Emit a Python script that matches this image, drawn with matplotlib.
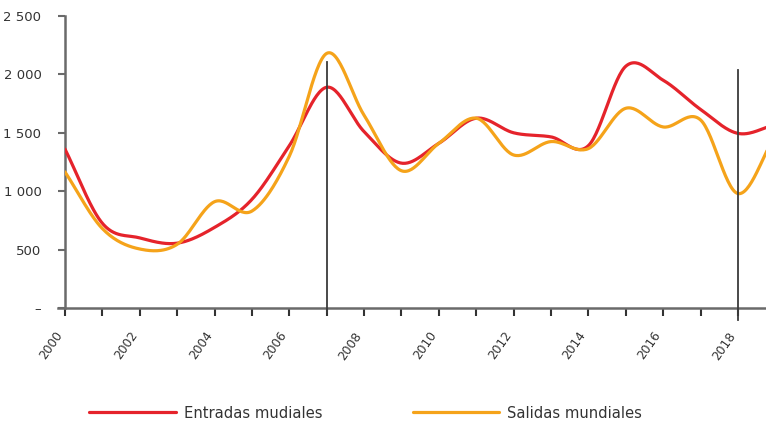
import numpy as np
import matplotlib
matplotlib.use("Agg")
import matplotlib.pyplot as plt
from matplotlib.transforms import ScaledTranslation

# ---- data (annual values) ----
years = [2000, 2001, 2002, 2003, 2004, 2005, 2006, 2007, 2008, 2009,
         2010, 2011, 2012, 2013, 2014, 2015, 2016, 2017, 2018, 2019]
entradas = [1360, 725, 600, 555, 690, 930, 1390, 1890, 1510, 1240,
            1410, 1625, 1500, 1465, 1390, 2070, 1950, 1700, 1495, 1570]
salidas = [1165, 680, 505, 545, 910, 830, 1300, 2180, 1650, 1175,
           1410, 1625, 1310, 1425, 1365, 1710, 1550, 1610, 980, 1480]
series_names = ["Entradas mudiales", "Salidas mundiales"]
series_colors = ["#e5232b", "#f5a31a"]

y_ticks = [0, 500, 1000, 1500, 2000, 2500]
y_tick_labels = ["–", "500", "1 000", "1 500", "2 000", "2 500"]
x_label_years = [2000, 2002, 2004, 2006, 2008, 2010, 2012, 2014, 2016, 2018]

marker_years = [2007, 2018]
marker_tops = [2105, 2035]
marker_bottoms = [-30, -100]


def smooth(x, y, n=30):
    """Catmull-Rom rendering of a line (like a spreadsheet 'smoothed line')."""
    x = np.asarray(x, float)
    y = np.asarray(y, float)
    m = np.zeros_like(y)
    m[1:-1] = (y[2:] - y[:-2]) / 2.0
    m[0] = y[1] - y[0]
    m[-1] = y[-1] - y[-2]
    xs, ys = [], []
    for i in range(len(x) - 1):
        t = np.linspace(0, 1, n, endpoint=False)
        h00 = 2 * t**3 - 3 * t**2 + 1
        h10 = t**3 - 2 * t**2 + t
        h01 = -2 * t**3 + 3 * t**2
        h11 = t**3 - t**2
        xs.append(x[i] + t * (x[i + 1] - x[i]))
        ys.append(h00 * y[i] + h10 * m[i] + h01 * y[i + 1] + h11 * m[i + 1])
    xs.append([x[-1]])
    ys.append([y[-1]])
    return np.concatenate(xs), np.concatenate(ys)


fig = plt.figure(figsize=(7.66, 4.24), dpi=100)
ax = fig.add_axes([65 / 766, (424 - 308) / 424, 1 - 65 / 766, (308 - 16) / 424])

axis_color = "#6a6a6a"

l1, = ax.plot(*smooth(years, entradas), color=series_colors[0], lw=2.3,
              solid_capstyle="round", zorder=3)
l2, = ax.plot(*smooth(years, salidas), color=series_colors[1], lw=2.3,
              solid_capstyle="round", zorder=4)

for xv, top, bot in zip(marker_years, marker_tops, marker_bottoms):
    ax.plot([xv, xv], [bot, top], color="#3a3a3a", lw=1.3, clip_on=False, zorder=5)

ax.set_xlim(2000, 2018.75)
ax.set_ylim(0, 2500)

for s in ["top", "right"]:
    ax.spines[s].set_visible(False)
for s in ["left", "bottom"]:
    ax.spines[s].set_color(axis_color)
    ax.spines[s].set_linewidth(1.8)
ax.spines["bottom"].set_bounds(1999.8, 2018.75)

ax.set_yticks(y_ticks)
ax.set_yticklabels(y_tick_labels)
ax.set_xticks(years[:-1])
ax.set_xticklabels([str(y) if y in x_label_years else "" for y in years[:-1]],
                   rotation=55, ha="right", va="center", rotation_mode="anchor")
ax.tick_params(axis="y", length=5, width=1.5, color=axis_color, pad=12,
               labelsize=9.5, labelcolor="#333333")
ax.tick_params(axis="x", length=6, width=1.5, color="#333333", pad=12,
               labelsize=8.8, labelcolor="#333333")
offset = ScaledTranslation(-5 / 100, 0, fig.dpi_scale_trans)
for lab in ax.get_xticklabels():
    lab.set_transform(lab.get_transform() + offset)

leg = fig.legend([l1, l2], series_names, loc="center left",
                 bbox_to_anchor=(76 / 766, 1 - 413 / 424), ncol=2,
                 frameon=False, fontsize=10.6, handlelength=5.9,
                 handletextpad=0.55, columnspacing=6.1)
for t in leg.get_texts():
    t.set_color("#333333")

fig.savefig("out.png", dpi=100)
